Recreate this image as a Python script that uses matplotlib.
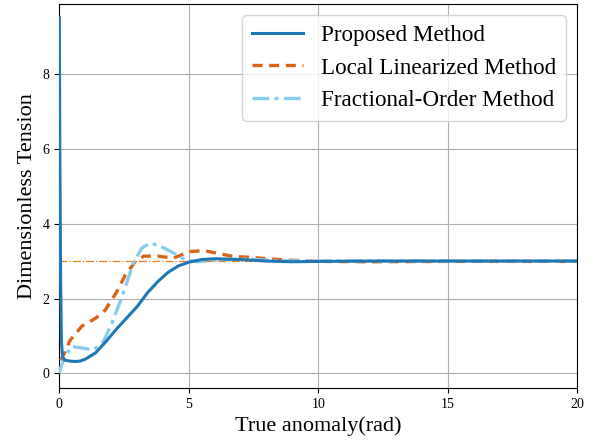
import matplotlib
matplotlib.use('Agg')
import matplotlib.pyplot as plt

plt.rcParams['font.family'] = ['Liberation Serif', 'DejaVu Serif']

# Proposed Method
x_prop = [0, 0.02, 0.05, 0.08, 0.12, 0.2, 0.4, 0.6, 0.8, 1.0, 1.4, 1.8, 2.2, 2.6,
          3.0, 3.4, 3.8, 4.2, 4.6, 5.0, 5.5, 6.0, 7.0, 8.0, 9.0, 10, 12, 15, 20]
y_prop = [9.49, 6.0, 2.5, 0.9, 0.45, 0.36, 0.33, 0.32, 0.33, 0.38, 0.55, 0.85, 1.18, 1.48,
          1.78, 2.15, 2.45, 2.7, 2.87, 2.97, 3.04, 3.06, 3.04, 3.0, 2.98, 2.99, 3.0, 3.0, 3.0]

# Local Linearized Method
x_loc = [0.05, 0.2, 0.42, 0.87, 1.39, 1.77, 2.22, 2.55, 2.93, 3.26, 3.8, 4.4, 5.05,
         5.57, 6.08, 6.72, 7.37, 8.27, 9.0, 10, 12, 15, 20]
y_loc = [0.35, 0.55, 0.89, 1.26, 1.47, 1.69, 2.18, 2.63, 2.98, 3.13, 3.13, 3.08, 3.25,
         3.28, 3.21, 3.12, 3.1, 3.05, 3.02, 2.99, 2.98, 2.99, 2.99]

# Fractional-Order Method
x_frac = [0, 0.03, 0.2, 0.48, 0.87, 1.32, 1.71, 2.03, 2.42, 2.86, 3.19, 3.51, 3.9,
          4.42, 4.88, 5.33, 6.3, 7.4, 8.3, 10, 12, 15, 20]
y_frac = [0.0, 0.1, 0.45, 0.72, 0.68, 0.63, 0.86, 1.34, 2.05, 2.95, 3.35, 3.48, 3.4,
          3.21, 3.03, 2.98, 3.04, 3.05, 3.01, 3.0, 3.0, 3.0, 3.0]

target = 3.0

fig = plt.figure(figsize=(6.01, 4.47), dpi=100)
ax = fig.add_axes([0.0987, 0.131, 0.862, 0.861])

ax.axhline(target, color='#f07f1e', lw=0.9, ls='-.', zorder=1)
ax.plot(x_prop, y_prop, color='#1f77b4', lw=2.2, label='Proposed Method', zorder=4)
ax.plot(x_loc, y_loc, color='#d9651c', lw=2.4, ls=(0, (3, 2)),
        label='Local Linearized Method', zorder=3)
ax.plot(x_frac, y_frac, color='#87ceeb', lw=2.4, ls=(0, (5, 1.6, 1.2, 1.6)),
        label='Fractional-Order Method', zorder=3)

ax.set_xlim(0, 20)
ax.set_ylim(-0.4, 9.87)
ax.set_xticks([0, 5, 10, 15, 20])
ax.set_yticks([0, 2, 4, 6, 8])
ax.tick_params(labelsize=10)
ax.grid(True, color='#b0b0b0', lw=0.8)
ax.set_axisbelow(True)

ax.set_xlabel('True anomaly(rad)', fontsize=16)
ax.set_ylabel('Dimensionless Tension', fontsize=16)
ax.legend(loc='upper right', fontsize=16.7, handlelength=2.2)

fig.savefig('out.png', dpi=100)
